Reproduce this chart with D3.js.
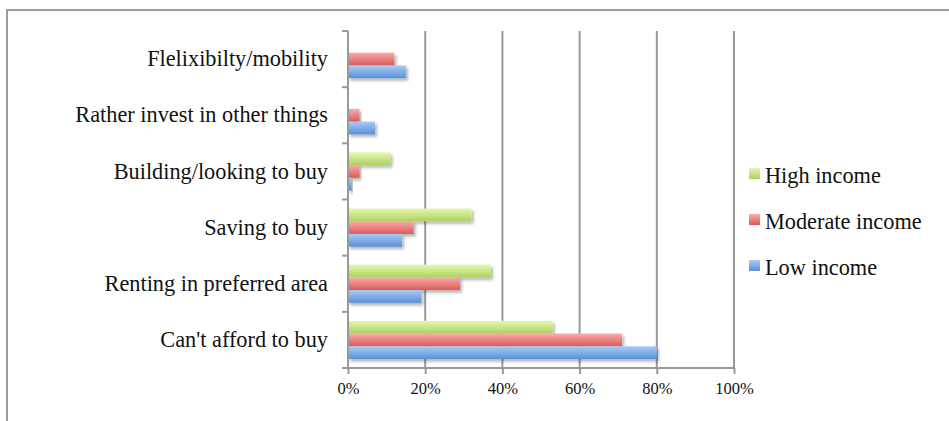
<!DOCTYPE html>
<html>
<head>
<meta charset="utf-8">
<script src="https://cdn.jsdelivr.net/npm/d3@7"></script>
<style>
  html, body { margin: 0; padding: 0; background: #fff; }
  svg { display: block; }
</style>
</head>
<body>
<svg id="chart" width="949" height="421"></svg>
<script>
// Reasons for renting, by income group (share of respondents)
const categories = [
  "Can't afford to buy",
  "Renting in preferred area",
  "Saving to buy",
  "Building/looking to buy",
  "Rather invest in other things",
  "Flelixibilty/mobility"
];
const lowIncome      = [0.80, 0.19, 0.14, 0.01, 0.07, 0.15];
const moderateIncome = [0.71, 0.29, 0.17, 0.03, 0.03, 0.12];
const highIncome     = [0.53, 0.37, 0.32, 0.11, 0.00, 0.00];
const seriesNames = ["High income", "Moderate income", "Low income"];
const xTicks = [0, 0.2, 0.4, 0.6, 0.8, 1.0];

const series = [
  { name: "High income",     values: highIncome,     top: "#e6f7b0", bottom: "#acd260" },
  { name: "Moderate income", values: moderateIncome, top: "#f8acaa", bottom: "#da5a57" },
  { name: "Low income",      values: lowIncome,      top: "#aacbf6", bottom: "#5890d6" }
];

const svg = d3.select("#chart");
const font = "'Liberation Serif', 'DejaVu Serif', serif";
const labelSize = 22.3;
const tickSize = 16.5;

const plot = { left: 348, right: 734, top: 31, bottom: 368 };

const x = d3.scaleLinear().domain([0, 1]).range([plot.left, plot.right]);
// categories run bottom-to-top
const y = d3.scaleBand()
  .domain(categories.slice().reverse())
  .range([plot.top, plot.bottom])
  .paddingInner(0)
  .paddingOuter(0);

const groupPad = 0.16;
const inner = d3.scaleBand()
  .domain(seriesNames)
  .range([y.bandwidth() * groupPad, y.bandwidth() * (1 - groupPad)]);

// defs: gradients + shadow
const defs = svg.append("defs");
series.forEach((s, i) => {
  const g = defs.append("linearGradient")
    .attr("id", "grad" + i)
    .attr("x1", 0).attr("y1", 0).attr("x2", 0).attr("y2", 1);
  g.append("stop").attr("offset", "0%").attr("stop-color", s.top);
  g.append("stop").attr("offset", "100%").attr("stop-color", s.bottom);
});
const f = defs.append("filter").attr("id", "shadow")
  .attr("x", "-10%").attr("y", "-30%").attr("width", "130%").attr("height", "180%");
f.append("feDropShadow").attr("dx", 2).attr("dy", 2.5)
  .attr("stdDeviation", 1.6).attr("flood-color", "#000").attr("flood-opacity", 0.3);

// outer frame (top + left edges visible)
svg.append("path")
  .attr("d", "M7,421 V10 H949")
  .attr("fill", "none").attr("stroke", "#9c9c9c").attr("stroke-width", 2);

// vertical gridlines
svg.append("g").selectAll("line")
  .data(xTicks.slice(1))
  .join("line")
  .attr("x1", d => x(d)).attr("x2", d => x(d))
  .attr("y1", plot.top).attr("y2", plot.bottom)
  .attr("stroke", "#999").attr("stroke-width", 2);

// bars
const groups = svg.append("g").selectAll("g")
  .data(categories)
  .join("g")
  .attr("transform", d => `translate(0,${y(d)})`);

series.forEach((s, si) => {
  groups.append("rect")
    .filter((d, i) => s.values[i] > 0)
    .attr("x", x(0))
    .attr("y", inner(s.name))
    .attr("width", (d) => x(s.values[categories.indexOf(d)]) - x(0))
    .attr("height", inner.bandwidth())
    .attr("fill", `url(#grad${si})`)
    .attr("filter", "url(#shadow)");
});

// x axis (bottom)
const xAxis = d3.axisBottom(x)
  .tickValues(xTicks)
  .tickFormat(d3.format(".0%"))
  .tickSize(6)
  .tickPadding(8);
const gx = svg.append("g")
  .attr("transform", `translate(0,${plot.bottom})`)
  .call(xAxis);
gx.select(".domain").attr("stroke", "#999").attr("stroke-width", 2)
  .attr("d", `M${plot.left},0H${plot.right}`);
gx.selectAll(".tick line").attr("stroke", "#999").attr("stroke-width", 2);
gx.selectAll(".tick text")
  .attr("font-family", font).attr("font-size", tickSize).attr("fill", "#111");

// y axis (left)
const yAxis = d3.axisLeft(y).tickSize(0).tickPadding(20);
const gy = svg.append("g")
  .attr("transform", `translate(${plot.left},0)`)
  .call(yAxis);
gy.select(".domain").attr("stroke", "#999").attr("stroke-width", 2)
  .attr("d", `M0,${plot.top}V${plot.bottom}`);
gy.selectAll(".tick text")
  .attr("font-family", font).attr("font-size", labelSize).attr("fill", "#111");

// category boundary ticks on the left axis
const boundaries = categories.map(c => y(c)).concat([plot.bottom]);
svg.append("g").selectAll("line")
  .data(boundaries)
  .join("line")
  .attr("x1", plot.left - 6).attr("x2", plot.left)
  .attr("y1", d => d).attr("y2", d => d)
  .attr("stroke", "#999").attr("stroke-width", 2);

// legend
const legend = svg.append("g").attr("transform", "translate(749,175)");
const items = legend.selectAll("g")
  .data(series)
  .join("g")
  .attr("transform", (d, i) => `translate(0,${i * 46})`);
items.append("rect")
  .attr("x", 0).attr("y", -7).attr("width", 11).attr("height", 11)
  .attr("fill", (d, i) => `url(#grad${i})`);
items.append("text")
  .attr("x", 16).attr("y", 0).attr("dy", "0.35em")
  .attr("font-family", font).attr("font-size", labelSize).attr("fill", "#111")
  .text(d => d.name);
</script>
</body>
</html>
